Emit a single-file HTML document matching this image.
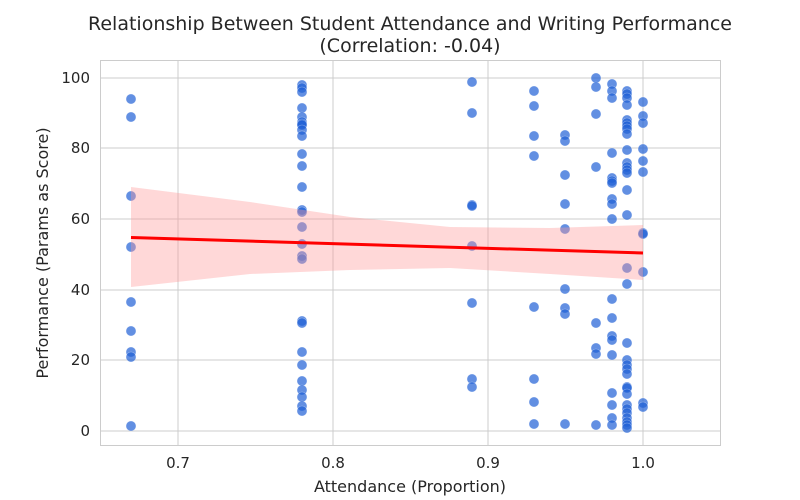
<!DOCTYPE html>
<html><head><meta charset="utf-8"><style>body{margin:0;background:#fff}svg{display:block}text{font-family:"DejaVu Sans","Liberation Sans",sans-serif;fill:#262626}</style></head><body>
<svg width="800" height="500" xmlns="http://www.w3.org/2000/svg">
<rect width="800" height="500" fill="#fff"/>
<g stroke="#cccccc" stroke-width="1">
<line x1="178" y1="60" x2="178" y2="445"/><line x1="333" y1="60" x2="333" y2="445"/><line x1="488" y1="60" x2="488" y2="445"/><line x1="643" y1="60" x2="643" y2="445"/>
<line x1="100" y1="431" x2="720" y2="431"/><line x1="100" y1="360" x2="720" y2="360"/><line x1="100" y1="290" x2="720" y2="290"/><line x1="100" y1="219" x2="720" y2="219"/><line x1="100" y1="148" x2="720" y2="148"/><line x1="100" y1="78" x2="720" y2="78"/>
</g>
<rect x="100.5" y="60.5" width="620" height="385" fill="none" stroke="#cccccc"/>
<g fill="#1f5fd6" fill-opacity="0.7" stroke="#ffffff" stroke-opacity="0.4" stroke-width="0.6">
<circle cx="131" cy="99" r="5"/><circle cx="131" cy="117" r="5"/><circle cx="131" cy="196" r="5"/><circle cx="131" cy="247" r="5"/><circle cx="131" cy="302" r="5"/><circle cx="131" cy="331" r="5"/><circle cx="131" cy="352" r="5"/><circle cx="131" cy="357" r="5"/><circle cx="131" cy="426" r="5"/>
<circle cx="302" cy="85" r="5"/><circle cx="302" cy="88" r="5"/><circle cx="302" cy="92" r="5"/><circle cx="302" cy="108" r="5"/><circle cx="302" cy="117" r="5"/><circle cx="302" cy="122" r="5"/><circle cx="302" cy="124" r="5"/><circle cx="302" cy="125" r="5"/><circle cx="302" cy="130" r="5"/><circle cx="302" cy="136" r="5"/><circle cx="302" cy="154" r="5"/><circle cx="302" cy="166" r="5"/><circle cx="302" cy="187" r="5"/><circle cx="302" cy="210" r="5"/><circle cx="302" cy="212" r="5"/><circle cx="302" cy="227" r="5"/><circle cx="302" cy="244" r="5"/><circle cx="302" cy="256" r="5"/><circle cx="302" cy="259" r="5"/><circle cx="302" cy="321" r="5"/><circle cx="302" cy="323" r="5"/><circle cx="302" cy="352" r="5"/><circle cx="302" cy="365" r="5"/><circle cx="302" cy="381" r="5"/><circle cx="302" cy="390" r="5"/><circle cx="302" cy="397" r="5"/><circle cx="302" cy="406" r="5"/><circle cx="302" cy="411" r="5"/>
<circle cx="472" cy="82" r="5"/><circle cx="472" cy="113" r="5"/><circle cx="472" cy="205" r="5"/><circle cx="472" cy="206" r="5"/><circle cx="472" cy="246" r="5"/><circle cx="472" cy="303" r="5"/><circle cx="472" cy="379" r="5"/><circle cx="472" cy="387" r="5"/>
<circle cx="534" cy="91" r="5"/><circle cx="534" cy="106" r="5"/><circle cx="534" cy="136" r="5"/><circle cx="534" cy="156" r="5"/><circle cx="534" cy="307" r="5"/><circle cx="534" cy="379" r="5"/><circle cx="534" cy="402" r="5"/><circle cx="534" cy="424" r="5"/>
<circle cx="565" cy="135" r="5"/><circle cx="565" cy="141" r="5"/><circle cx="565" cy="175" r="5"/><circle cx="565" cy="204" r="5"/><circle cx="565" cy="229" r="5"/><circle cx="565" cy="289" r="5"/><circle cx="565" cy="308" r="5"/><circle cx="565" cy="314" r="5"/><circle cx="565" cy="424" r="5"/>
<circle cx="596" cy="78" r="5"/><circle cx="596" cy="87" r="5"/><circle cx="596" cy="114" r="5"/><circle cx="596" cy="167" r="5"/><circle cx="596" cy="323" r="5"/><circle cx="596" cy="348" r="5"/><circle cx="596" cy="354" r="5"/><circle cx="596" cy="425" r="5"/>
<circle cx="612" cy="84" r="5"/><circle cx="612" cy="91" r="5"/><circle cx="612" cy="98" r="5"/><circle cx="612" cy="153" r="5"/><circle cx="612" cy="178" r="5"/><circle cx="612" cy="181" r="5"/><circle cx="612" cy="183" r="5"/><circle cx="612" cy="199" r="5"/><circle cx="612" cy="204" r="5"/><circle cx="612" cy="219" r="5"/><circle cx="612" cy="299" r="5"/><circle cx="612" cy="318" r="5"/><circle cx="612" cy="336" r="5"/><circle cx="612" cy="340" r="5"/><circle cx="612" cy="355" r="5"/><circle cx="612" cy="393" r="5"/><circle cx="612" cy="405" r="5"/><circle cx="612" cy="418" r="5"/><circle cx="612" cy="425" r="5"/>
<circle cx="627" cy="91" r="5"/><circle cx="627" cy="94" r="5"/><circle cx="627" cy="98" r="5"/><circle cx="627" cy="105" r="5"/><circle cx="627" cy="120" r="5"/><circle cx="627" cy="123" r="5"/><circle cx="627" cy="126" r="5"/><circle cx="627" cy="129" r="5"/><circle cx="627" cy="134" r="5"/><circle cx="627" cy="150" r="5"/><circle cx="627" cy="163" r="5"/><circle cx="627" cy="167" r="5"/><circle cx="627" cy="170" r="5"/><circle cx="627" cy="173" r="5"/><circle cx="627" cy="190" r="5"/><circle cx="627" cy="215" r="5"/><circle cx="627" cy="268" r="5"/><circle cx="627" cy="284" r="5"/><circle cx="627" cy="343" r="5"/><circle cx="627" cy="360" r="5"/><circle cx="627" cy="365" r="5"/><circle cx="627" cy="369" r="5"/><circle cx="627" cy="374" r="5"/><circle cx="627" cy="387" r="5"/><circle cx="627" cy="388" r="5"/><circle cx="627" cy="394" r="5"/><circle cx="627" cy="405" r="5"/><circle cx="627" cy="409" r="5"/><circle cx="627" cy="413" r="5"/><circle cx="627" cy="418" r="5"/><circle cx="627" cy="422" r="5"/><circle cx="627" cy="425" r="5"/><circle cx="627" cy="428" r="5"/>
<circle cx="643" cy="102" r="5"/><circle cx="643" cy="116" r="5"/><circle cx="643" cy="123" r="5"/><circle cx="643" cy="149" r="5"/><circle cx="643" cy="161" r="5"/><circle cx="643" cy="172" r="5"/><circle cx="643" cy="233" r="5"/><circle cx="643" cy="234" r="5"/><circle cx="643" cy="272" r="5"/><circle cx="643" cy="403" r="5"/><circle cx="643" cy="407" r="5"/>
</g>
<path d="M131,187 L250,202 L350,217 L450,227 L550,228 L643,225 L643,280 L550,274 L450,268 L350,270 L250,274 L131,287 Z" fill="#ff9999" fill-opacity="0.38"/>
<line x1="131" y1="237.5" x2="643" y2="253" stroke="#ff0000" stroke-width="3"/>
<g font-size="15" text-anchor="middle">
<text x="178" y="468">0.7</text><text x="333" y="468">0.8</text><text x="488" y="468">0.9</text><text x="643" y="468">1.0</text>
</g>
<g font-size="15" text-anchor="end">
<text x="90" y="436">0</text><text x="90" y="365">20</text><text x="90" y="295">40</text><text x="90" y="224">60</text><text x="90" y="153">80</text><text x="90" y="83">100</text>
</g>
<text x="410" y="492" font-size="16" text-anchor="middle">Attendance (Proportion)</text>
<text transform="translate(48,253) rotate(-90)" font-size="16" text-anchor="middle">Performance (Params as Score)</text>
<text x="410" y="30" font-size="19" text-anchor="middle">Relationship Between Student Attendance and Writing Performance</text>
<text x="410" y="52" font-size="19" text-anchor="middle">(Correlation: -0.04)</text>
</svg>
</body></html>
